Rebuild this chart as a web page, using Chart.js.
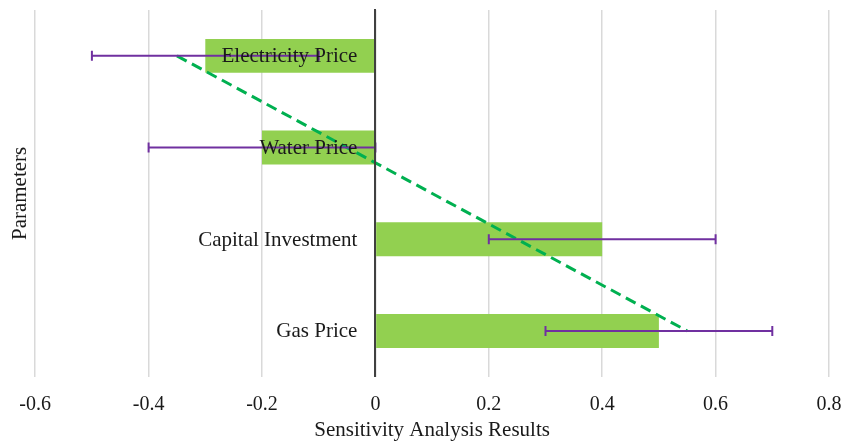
<!DOCTYPE html>
<html>
<head>
<meta charset="utf-8">
<script src="https://cdn.jsdelivr.net/npm/chart.js@4.4.0/dist/chart.umd.min.js"></script>
<style>
  html, body { margin: 0; padding: 0; background: #ffffff; }
  #wrap { width: 844px; height: 443px; position: relative; }
</style>
</head>
<body>
<div id="wrap"><canvas id="chart"></canvas></div>
<script>
// Sensitivity of the result to each input parameter
const categories = ['Electricity Price', 'Water Price', 'Capital Investment', 'Gas Price'];
const results    = [-0.3, -0.2, 0.4, 0.5];
const errLow     = [-0.5, -0.4, 0.2, 0.3];
const errHigh    = [-0.1, 0.0, 0.6, 0.7];
// linear trend, end points only (gap spanned)
const trend      = [-0.35, null, null, 0.55];
const xTicks     = [-0.6, -0.4, -0.2, 0, 0.2, 0.4, 0.6, 0.8];

const SERIF = '"Liberation Serif", "Times New Roman", serif';
const TEXT = '#1a1a1a';

// Error bars and the parameter names next to the zero line
const overlay = {
  id: 'overlay',
  afterDatasetsDraw(chart) {
    const { ctx, scales: { x, y } } = chart;
    ctx.save();
    ctx.strokeStyle = '#7030a0';
    ctx.lineWidth = 2;
    categories.forEach((c, i) => {
      const py = y.getPixelForValue(i);
      const a = x.getPixelForValue(errLow[i]);
      const b = x.getPixelForValue(errHigh[i]);
      ctx.beginPath();
      ctx.moveTo(a, py); ctx.lineTo(b, py);
      ctx.moveTo(a, py - 5); ctx.lineTo(a, py + 5);
      ctx.moveTo(b, py - 5); ctx.lineTo(b, py + 5);
      ctx.stroke();
    });
    ctx.font = '21px ' + SERIF;
    ctx.fillStyle = TEXT;
    ctx.textAlign = 'right';
    ctx.textBaseline = 'middle';
    const lx = x.getPixelForValue(0) - 18;
    categories.forEach((c, i) => ctx.fillText(c, lx, y.getPixelForValue(i) + 1));
    ctx.restore();
  }
};

new Chart(document.getElementById('chart'), {
  type: 'bar',
  data: {
    labels: categories,
    datasets: [
      {
        type: 'line',
        label: 'Trend',
        data: trend,
        indexAxis: 'y',
        xAxisID: 'x',
        yAxisID: 'y',
        borderColor: '#00b050',
        borderWidth: 3,
        borderDash: [11, 6],
        pointRadius: 0,
        fill: false,
        tension: 0,
        spanGaps: true,
        order: 0
      },
      {
        label: 'Sensitivity',
        data: results,
        xAxisID: 'x',
        yAxisID: 'y',
        backgroundColor: '#92d050',
        borderWidth: 0,
        barPercentage: 0.37,
        categoryPercentage: 1.0,
        order: 1
      }
    ]
  },
  options: {
    indexAxis: 'y',
    responsive: true,
    maintainAspectRatio: false,
    animation: false,
    devicePixelRatio: 1,
    layout: { padding: { left: 4, right: 15, top: 10, bottom: 0 } },
    plugins: {
      legend: { display: false },
      tooltip: { enabled: false }
    },
    scales: {
      x: {
        type: 'linear',
        position: 'bottom',
        min: -0.6,
        max: 0.8,
        afterBuildTicks: (scale) => { scale.ticks = xTicks.map(v => ({ value: v })); },
        ticks: {
          padding: 0,
          color: TEXT,
          font: { family: SERIF, size: 20, lineHeight: 1.2 },
          callback: (v) => String(v)
        },
        grid: {
          color: '#d9d9d9',
          lineWidth: 1.5,
          drawTicks: true,
          tickLength: 16,
          tickColor: 'rgba(0,0,0,0)'
        },
        border: { display: false },
        title: {
          display: true,
          text: 'Sensitivity Analysis Results',
          color: TEXT,
          font: { family: SERIF, size: 21, lineHeight: 1.2 },
          padding: { top: 1, bottom: 0 }
        }
      },
      y: {
        type: 'category',
        position: 'left',
        offset: true,
        ticks: { display: false },
        grid: { display: false, drawTicks: false },
        border: { display: false },
        title: {
          display: true,
          text: 'Parameters',
          color: TEXT,
          font: { family: SERIF, size: 21, lineHeight: 1.2 },
          padding: { top: 4, bottom: 2 }
        }
      },
      zero: {
        type: 'category',
        axis: 'y',
        position: { x: 0 },
        offset: true,
        ticks: { display: false },
        grid: { display: false, drawTicks: false },
        border: { display: true, color: '#404040', width: 2, z: 1 }
      }
    }
  },
  plugins: [overlay]
});
</script>
</body>
</html>
